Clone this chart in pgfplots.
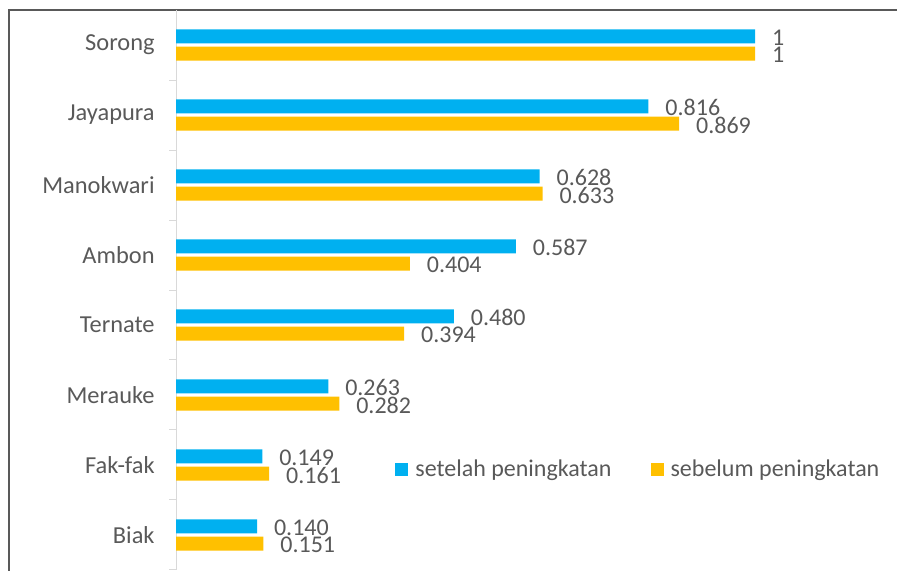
\documentclass[border=0pt]{standalone}
\usepackage{fontspec}
\setmainfont{Carlito}
\usepackage{pgfplots}
\pgfplotsset{compat=1.18}
\definecolor{cy}{HTML}{00B0F0}
\definecolor{ye}{HTML}{FFC000}
\definecolor{tg}{HTML}{595959}
\definecolor{ag}{HTML}{D9D9D9}
\definecolor{fg}{HTML}{595959}
\begin{document}
\begin{tikzpicture}
\useasboundingbox (0pt,0pt) rectangle (448.5pt,285.5pt);
\draw[fg, line width=0.6pt] (4.5pt,-10pt) -- (4.5pt,280.5pt) -- (460pt,280.5pt);
\begin{axis}[
 at={(88pt,0.5pt)}, anchor=south west,
 scale only axis, width=347.4pt, height=280pt,
 xmin=0, xmax=1.2, ymin=-0.5, ymax=7.5,
 axis y line*=left, axis x line=none,
 axis line style={draw=ag, line width=0.5pt},
 ytick={-0.5,0.5,1.5,2.5,3.5,4.5,5.5,6.5},
 yticklabels={Biak,Fak-fak,Merauke,Ternate,Ambon,Manokwari,Jayapura,Sorong},
 yticklabel style={yshift=17.5pt, xshift=-7pt, anchor=east, inner sep=0pt, text=tg, font=\fontsize{12.2}{14}\selectfont},
 tick align=outside, major tick length=3.5pt,
 tick style={draw=ag, line width=0.5pt},
 xbar, bar width=7pt,
 clip=false,
 point meta=explicit symbolic,
 nodes near coords,
 nodes near coords style={anchor=west, inner sep=0pt, xshift=8.3pt, yshift=-0.75pt, text=tg, font=\fontsize{12}{14}\selectfont},
 legend columns=2,
 legend style={at={(0.3152,0.1786)}, anchor=west, draw=none, fill=none, inner sep=0pt,
   nodes={inner sep=0pt, text=tg, font=\fontsize{12}{14}\selectfont},
   /tikz/every odd column/.append style={column sep=3.5pt},
   /tikz/every even column/.append style={column sep=19.5pt}},
 legend image code/.code={\fill[#1] (0pt,-3.25pt) rectangle (6.5pt,3.25pt);},
]
\addplot[fill=cy, draw=none, bar shift=4.35pt] coordinates {
 (0.140,0) [0.140]
 (0.149,1) [0.149]
 (0.263,2) [0.263]
 (0.480,3) [0.480]
 (0.587,4) [0.587]
 (0.628,5) [0.628]
 (0.816,6) [0.816]
 (1,7) [1]
};
\addlegendentry{setelah peningkatan}
\addplot[fill=ye, draw=none, bar shift=-4.35pt] coordinates {
 (0.151,0) [0.151]
 (0.161,1) [0.161]
 (0.282,2) [0.282]
 (0.394,3) [0.394]
 (0.404,4) [0.404]
 (0.633,5) [0.633]
 (0.869,6) [0.869]
 (1,7) [1]
};
\addlegendentry{sebelum peningkatan}
\end{axis}
\end{tikzpicture}
\end{document}
